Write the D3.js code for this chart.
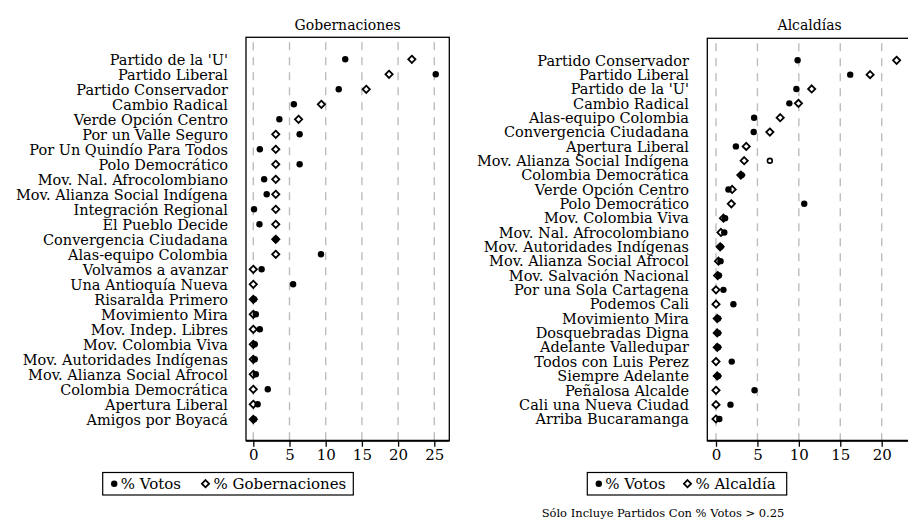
<!DOCTYPE html>
<html>
<head>
<meta charset="utf-8">
<script src="https://cdn.jsdelivr.net/npm/d3@7"></script>
<style>
  body { margin: 0; background: #fff; }
  text { font-family: "DejaVu Serif", serif; fill: #000; }
</style>
</head>
<body>
<div id="chart"></div>
<script>
// Gobernaciones
var gobParties = ["Partido de la 'U'", 'Partido Liberal', 'Partido Conservador', 'Cambio Radical',
  'Verde Opción Centro', 'Por un Valle Seguro', 'Por Un Quindío Para Todos', 'Polo Democrático',
  'Mov. Nal. Afrocolombiano', 'Mov. Alianza Social Indígena', 'Integración Regional', 'El Pueblo Decide',
  'Convergencia Ciudadana', 'Alas-equipo Colombia', 'Volvamos a avanzar', 'Una Antioquía Nueva',
  'Risaralda Primero', 'Movimiento Mira', 'Mov. Indep. Libres', 'Mov. Colombia Viva',
  'Mov. Autoridades Indígenas', 'Mov. Alianza Social Afrocol', 'Colombia Democrática',
  'Apertura Liberal', 'Amigos por Boyacá']
var gobVotos = [12.7, 25.2, 11.8, 5.6, 3.6, 6.4, 0.9, 6.4, 1.5, 1.85, 0.1, 0.85,
  3.1, 9.35, 1.15, 5.5, 0.1, 0.35, 0.9, 0.2, 0.2, 0.35, 2.0, 0.6, 0.1]
var gobCargos = [21.9, 18.75, 15.6, 9.4, 6.25, 3.1, 3.1, 3.1, 3.1, 3.1, 3.1, 3.1,
  3.1, 3.1, 0, 0, 0, 0, 0, 0, 0, 0, 0, 0, 0]

// Alcaldías
var alcParties = ['Partido Conservador', 'Partido Liberal', "Partido de la 'U'", 'Cambio Radical',
  'Alas-equipo Colombia', 'Convergencia Ciudadana', 'Apertura Liberal', 'Mov. Alianza Social Indígena',
  'Colombia Democrática', 'Verde Opción Centro', 'Polo Democrático', 'Mov. Colombia Viva',
  'Mov. Nal. Afrocolombiano', 'Mov. Autoridades Indígenas', 'Mov. Alianza Social Afrocol',
  'Mov. Salvación Nacional', 'Por una Sola Cartagena', 'Podemos Cali', 'Movimiento Mira',
  'Dosquebradas Digna', 'Adelante Valledupar', 'Todos con Luis Perez', 'Siempre Adelante',
  'Peñalosa Alcalde', 'Cali una Nueva Ciudad', 'Arriba Bucaramanga']
var alcVotos = [9.85, 16.2, 9.7, 8.85, 4.6, 4.55, 2.4, 6.5, 3.1, 1.5, 10.65, 1.1,
  1.0, 0.55, 0.55, 0.35, 0.9, 2.1, 0.25, 0.25, 0.25, 1.9, 0.25, 4.65, 1.75, 0.4]
var alcCargos = [21.8, 18.6, 11.55, 9.95, 7.75, 6.5, 3.65, 3.4, 3.0, 1.95, 1.85, 0.9,
  0.6, 0.5, 0.3, 0.2, 0, 0, 0.15, 0.15, 0.15, 0, 0.15, 0, 0, 0]

var ticksGob = [0, 5, 10, 15, 20, 25]
var ticksAlc = [0, 5, 10, 15, 20]

var svg = d3.select('#chart').append('svg')
  .attr('width', 908)
  .attr('height', 523)

function diamond(g, x, y) {
  var s = 3.6
  g.append('path')
    .attr('d', 'M' + x + ',' + (y - s) + 'L' + (x + s) + ',' + y + 'L' + x + ',' + (y + s) + 'L' + (x - s) + ',' + y + 'Z')
    .attr('fill', '#fff')
    .attr('stroke', '#000')
    .attr('stroke-width', 1.8)
}

function dot(g, x, y, hollow) {
  g.append('circle')
    .attr('cx', x).attr('cy', y)
    .attr('r', hollow ? 2.4 : 3.2)
    .attr('fill', hollow ? '#fff' : '#000')
    .attr('stroke', hollow ? '#000' : 'none')
    .attr('stroke-width', 1.6)
}

function panel(o) {
  var g = svg.append('g')
  var x = d3.scaleLinear().domain([0, o.ticks[o.ticks.length - 1]]).range(o.xr)
  var y = d3.scalePoint().domain(o.parties).range(o.yr)

  g.append('rect')
    .attr('x', o.box[0]).attr('y', o.box[1])
    .attr('width', o.box[2] - o.box[0]).attr('height', o.box[3] - o.box[1])
    .attr('fill', 'none').attr('stroke', '#000').attr('stroke-width', 1.3)

  g.selectAll('.grid').data(o.ticks).enter().append('line')
    .attr('x1', function(d) { return x(d) }).attr('x2', function(d) { return x(d) })
    .attr('y1', o.box[1] + 5).attr('y2', o.box[3])
    .attr('stroke', '#bdbdbd').attr('stroke-width', 1.4)
    .attr('stroke-dasharray', '8,7')

  var ax = g.append('g')
    .attr('transform', 'translate(0,' + o.box[3] + ')')
    .call(d3.axisBottom(x).tickValues(o.ticks).tickSize(6).tickPadding(3))
  ax.select('.domain').remove()
  ax.selectAll('.tick line').attr('stroke', '#000').attr('stroke-width', 1.3)
  ax.selectAll('.tick text').style('font-family', '"DejaVu Serif", serif').style('font-size', '15px')
  g.append('line')
    .attr('x1', o.box[0]).attr('x2', o.box[2])
    .attr('y1', o.box[3]).attr('y2', o.box[3])
    .attr('stroke', '#000').attr('stroke-width', 2)

  g.selectAll('.lab').data(o.parties).enter().append('text')
    .attr('x', o.labelX)
    .attr('y', function(d) { return y(d) })
    .attr('dy', '0.36em')
    .attr('text-anchor', 'end')
    .style('font-size', '14.5px')
    .text(function(d) { return d })

  o.parties.forEach(function(p, i) {
    diamond(g, x(o.cargos[i]), y(p))
    dot(g, x(o.votos[i]), y(p), o.hollow && o.hollow.indexOf(p) >= 0)
  })

  g.append('text')
    .attr('x', (o.box[0] + o.box[2]) / 2).attr('y', 30)
    .attr('text-anchor', 'middle')
    .style('font-size', '14px')
    .text(o.title)

  // legend
  var lg = g.append('g')
  lg.append('rect')
    .attr('x', o.leg[0]).attr('y', 472.5)
    .attr('width', o.leg[1] - o.leg[0]).attr('height', 22.5)
    .attr('fill', 'none').attr('stroke', '#000').attr('stroke-width', 1.2)
  dot(lg, o.leg[0] + 11.5, 483.7, false)
  lg.append('text').attr('x', o.leg[0] + 18).attr('y', 489)
    .style('font-size', '15px').text('% Votos')
  diamond(lg, o.leg[2], 483.7)
  lg.append('text').attr('x', o.leg[2] + 8).attr('y', 489)
    .style('font-size', '15px').text(o.legText)
}

panel({
  parties: gobParties, votos: gobVotos, cargos: gobCargos, ticks: ticksGob,
  xr: [253.3, 434.3], yr: [59.3, 419.3], box: [246, 37.3, 449.3, 440.7],
  labelX: 228, title: 'Gobernaciones', leg: [102.7, 353.3, 205.5], legText: '% Gobernaciones'
})

panel({
  parties: alcParties, votos: alcVotos, cargos: alcCargos, ticks: ticksAlc,
  xr: [716, 881.7], yr: [60.3, 419], box: [707.3, 38.3, 912, 440.7],
  labelX: 689, title: 'Alcaldías', leg: [587.3, 786.7, 687.5], legText: '% Alcaldía',
  hollow: ['Mov. Alianza Social Indígena']
})

svg.append('text')
  .attr('x', 663).attr('y', 517)
  .attr('text-anchor', 'middle')
  .style('font-size', '11.5px')
  .text('Sólo Incluye Partidos Con % Votos > 0.25')
</script>
</body>
</html>
